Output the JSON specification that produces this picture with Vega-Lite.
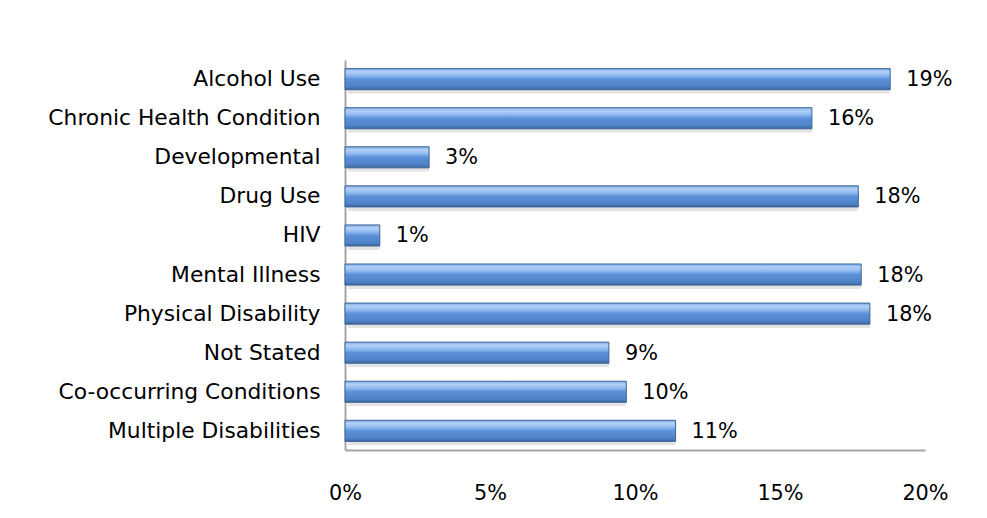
{
  "$schema": "https://vega.github.io/schema/vega-lite/v6.json",
  "width": 580,
  "height": 390,
  "autosize": {"type": "none"},
  "padding": {"left": 345, "top": 60, "right": 62, "bottom": 68},
  "background": "white",
  "config": {
    "view": {"stroke": null},
    "font": "DejaVu Sans",
    "axis": {"labelFont": "DejaVu Sans", "labelColor": "#000000"}
  },
  "data": {
    "values": [
      {"condition": "Alcohol Use", "share": 0.188},
      {"condition": "Chronic Health Condition", "share": 0.161},
      {"condition": "Developmental", "share": 0.029},
      {"condition": "Drug Use", "share": 0.177},
      {"condition": "HIV", "share": 0.012},
      {"condition": "Mental Illness", "share": 0.178},
      {"condition": "Physical Disability", "share": 0.181},
      {"condition": "Not Stated", "share": 0.091},
      {"condition": "Co-occurring Conditions", "share": 0.097},
      {"condition": "Multiple Disabilities", "share": 0.114}
    ]
  },
  "encoding": {
    "y": {
      "field": "condition",
      "type": "nominal",
      "sort": null,
      "scale": {"paddingInner": 0.46, "paddingOuter": 0.22},
      "axis": {
        "title": null,
        "ticks": false,
        "domainColor": "#a6a6a6",
        "domainWidth": 2,
        "labelPadding": 25,
        "labelLimit": 0,
        "labelFontSize": 21.8
      }
    },
    "x": {
      "field": "share",
      "type": "quantitative",
      "scale": {"domain": [0, 0.2], "nice": false},
      "axis": {
        "title": null,
        "format": ".0%",
        "values": [0, 0.05, 0.1, 0.15, 0.2],
        "ticks": false,
        "grid": false,
        "labelFlush": false,
        "labelOverlap": false,
        "domainColor": "#a6a6a6",
        "domainWidth": 2,
        "labelPadding": 33,
        "labelFontSize": 20.8
      }
    }
  },
  "layer": [
    {
      "mark": {"type": "bar", "fill": "#7f7f7f", "opacity": 0.22, "yOffset": 4, "xOffset": 3, "cornerRadius": 2}
    },
    {
      "mark": {
        "type": "bar",
        "stroke": "#3d6699",
        "strokeWidth": 1,
        "fill": {
          "gradient": "linear",
          "x1": 0, "y1": 0, "x2": 0, "y2": 1,
          "stops": [
            {"offset": 0, "color": "#7faae4"},
            {"offset": 0.15, "color": "#b3d1f7"},
            {"offset": 0.35, "color": "#8ab6ee"},
            {"offset": 0.5, "color": "#5b90d8"},
            {"offset": 0.85, "color": "#4f83c8"},
            {"offset": 1, "color": "#3a6399"}
          ]
        }
      }
    },
    {
      "mark": {"type": "text", "align": "left", "baseline": "middle", "dx": 16, "dy": 1, "fontSize": 20.8, "font": "DejaVu Sans", "color": "#000000"},
      "encoding": {"text": {"field": "share", "type": "quantitative", "format": ".0%"}}
    }
  ]
}
